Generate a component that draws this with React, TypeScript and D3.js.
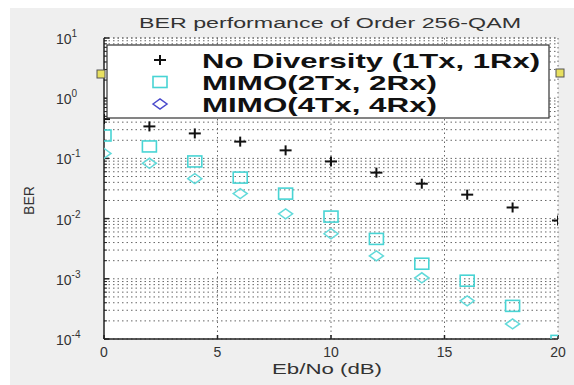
import React from "react";
import * as d3 from "d3";

const ebno = [0, 2, 4, 6, 8, 10, 12, 14, 16, 18, 20];
const berNoDiv = [0.45, 0.34, 0.26, 0.19, 0.136, 0.089, 0.058, 0.038, 0.025, 0.0153, 0.0093];
const berMimo2 = [0.24, 0.158, 0.089, 0.048, 0.026, 0.0108, 0.0046, 0.00178, 0.00093, 0.000355, 0.000093];
const berMimo4 = [0.121, 0.083, 0.046, 0.026, 0.012, 0.0056, 0.0024, 0.00104, 0.00043, 0.000178, 0.00007];
const xTicks = [0, 5, 10, 15, 20];
const yExps = [1, 0, -1, -2, -3, -4];
const legendLabels = ["No Diversity (1Tx, 1Rx)", "MIMO(2Tx, 2Rx)", "MIMO(4Tx, 4Rx)"];

const W = 574;
const H = 385;
const m = { left: 104, right: 558, top: 38, bottom: 339 };
const font = "'Liberation Sans', Arial, sans-serif";
// the source picture is stretched sideways, so the texts are too
const legendWidths = [338, 235, 235];

const App = () => {
  const x = d3.scaleLinear().domain([0, 20]).range([m.left, m.right]);
  const y = d3.scaleLog().domain([1e-4, 10]).range([m.bottom, m.top]);

  const minor: number[] = [];
  for (let e = -4; e < 1; e++) {
    for (let k = 2; k <= 9; k++) minor.push(k * Math.pow(10, e));
  }
  const inRange = (v: number) => v >= 1e-4 && v <= 10;

  const plus = (cx: number, cy: number, key: string) => (
    <g key={key} stroke="#111" strokeWidth={2}>
      <line x1={cx - 6} x2={cx + 6} y1={cy} y2={cy} />
      <line x1={cx} x2={cx} y1={cy - 5} y2={cy + 5} />
    </g>
  );
  const square = (cx: number, cy: number, key: string) => (
    <rect key={key} x={cx - 7} y={cy - 5.5} width={14} height={11} fill="none" stroke="#48d4d4" strokeWidth={1.6} />
  );
  const diamond = (cx: number, cy: number, key: string, color = "#62dada") => (
    <path key={key} d={`M${cx - 7},${cy}L${cx},${cy - 5}L${cx + 7},${cy}L${cx},${cy + 5}Z`} fill="none" stroke={color} strokeWidth={1.5} />
  );

  return (
    <svg width={W} height={H} style={{ position: "absolute", left: 0, top: 0 }}>
      <rect x={0} y={0} width={W} height={H} fill="#fff" />
      <rect x={10} y={8} width={W - 10} height={H - 8} fill="#efefef" />
      <rect x={m.left} y={m.top} width={m.right - m.left} height={m.bottom - m.top} fill="#fff" />
      <defs>
        <clipPath id="plotclip">
          <rect x={m.left} y={m.top} width={m.right - m.left} height={m.bottom - m.top} />
        </clipPath>
      </defs>

      {/* grid */}
      <g stroke="#666" strokeWidth={1} strokeDasharray="1.5,3">
        {yExps.map((e) => (
          <line key={"gy" + e} x1={m.left} x2={m.right} y1={y(Math.pow(10, e))} y2={y(Math.pow(10, e))} />
        ))}
        {minor.filter(inRange).map((v, i) => (
          <line key={"gm" + i} x1={m.left} x2={m.right} y1={y(v)} y2={y(v)} />
        ))}
        {xTicks.slice(1, -1).map((t) => (
          <line key={"gx" + t} x1={x(t)} x2={x(t)} y1={m.top} y2={m.bottom} />
        ))}
        <line x1={m.left} x2={m.right} y1={m.top} y2={m.top} />
        <line x1={m.right} x2={m.right} y1={m.top} y2={m.bottom} />
      </g>

      {/* axes */}
      <g stroke="#222" strokeWidth={1.5}>
        <line x1={m.left} x2={m.left} y1={m.top} y2={m.bottom} />
        <line x1={m.left} x2={m.right} y1={m.bottom} y2={m.bottom} />
        {xTicks.map((t) => (
          <line key={"tx" + t} x1={x(t)} x2={x(t)} y1={m.bottom} y2={m.bottom - 4} />
        ))}
        {yExps.map((e) => (
          <line key={"ty" + e} x1={m.left} x2={m.left + 5} y1={y(Math.pow(10, e))} y2={y(Math.pow(10, e))} />
        ))}
        {minor.filter(inRange).map((v, i) => (
          <line key={"tm" + i} x1={m.left} x2={m.left + 3} y1={y(v)} y2={y(v)} strokeWidth={1} />
        ))}
      </g>

      {/* data */}
      <g clipPath="url(#plotclip)">
        {ebno.map((d, i) => plus(x(d), y(berNoDiv[i]), "n" + i))}
        {ebno.map((d, i) => square(x(d), y(berMimo2[i]), "s" + i))}
        {ebno.map((d, i) => (inRange(berMimo4[i]) ? diamond(x(d), y(berMimo4[i]), "d" + i) : null))}
      </g>

      {/* tick labels */}
      <g fontFamily={font} fontSize={14} fill="#333">
        {xTicks.map((t) => (
          <text key={"lx" + t} x={x(t)} y={m.bottom + 18} textAnchor="middle">
            {t}
          </text>
        ))}
        {yExps.map((e) => (
          <text key={"ly" + e} x={56} y={y(Math.pow(10, e)) + 6}>
            10
            <tspan dy={-7} fontSize={10}>
              {e}
            </tspan>
          </text>
        ))}
        <text x={272} y={374} textLength={110} lengthAdjust="spacingAndGlyphs">
          Eb/No (dB)
        </text>
        <text transform={`translate(34,${(m.top + m.bottom) / 2 + 12}) rotate(-90)`} textAnchor="middle">
          BER
        </text>
        <text x={139} y={28} textLength={382} lengthAdjust="spacingAndGlyphs">
          BER performance of Order 256-QAM
        </text>
      </g>

      {/* legend */}
      <rect x={107} y={45} width={442} height={73} fill="#fff" stroke="#333" strokeWidth={1.2} />
      {plus(160, 60, "lg0")}
      {square(160, 82, "lg1")}
      {diamond(160, 104, "lg2", "#4a4acc")}
      <g fontFamily={font} fontSize={21} fontWeight="bold" fill="#111">
        {legendLabels.map((l, i) => (
          <text key={"leg" + i} x={202} y={68 + i * 22} textLength={legendWidths[i]} lengthAdjust="spacingAndGlyphs">
            {l}
          </text>
        ))}
      </g>
      <rect x={97} y={70} width={8} height={8} fill="#e8e060" stroke="#555" />
      <rect x={556} y={69} width={8} height={8} fill="#e8e060" stroke="#555" />
    </svg>
  );
};

export default App;
